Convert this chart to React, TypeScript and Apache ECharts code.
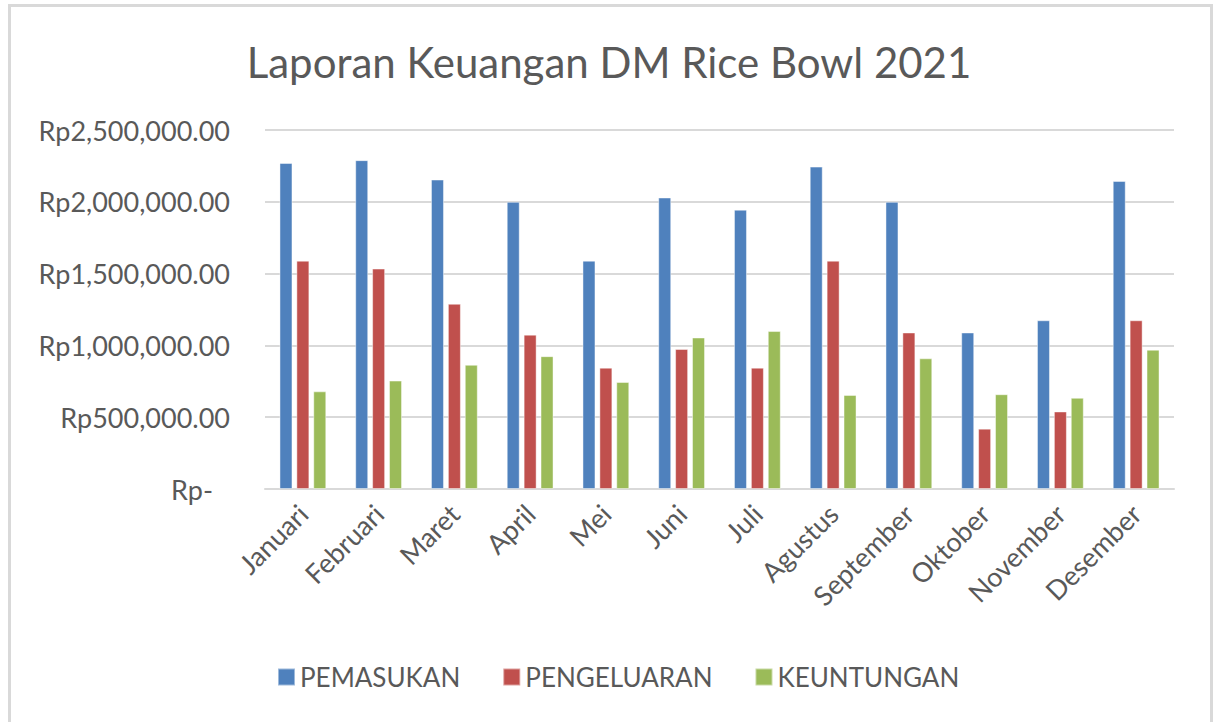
import React, { useEffect, useRef } from "react";
import * as echarts from "echarts";

const months = ["Januari", "Februari", "Maret", "April", "Mei", "Juni", "Juli", "Agustus", "September", "Oktober", "November", "Desember"];
const pemasukan = [2270000, 2290000, 2155000, 2000000, 1590000, 2030000, 1945000, 2245000, 2000000, 1090000, 1175000, 2145000];
const pengeluaran = [1590000, 1535000, 1290000, 1075000, 845000, 975000, 845000, 1590000, 1090000, 420000, 540000, 1175000];
const keuntungan = [680000, 755000, 865000, 925000, 745000, 1055000, 1100000, 655000, 910000, 660000, 635000, 970000];
const seriesNames = ["PEMASUKAN", "PENGELUARAN", "KEUNTUNGAN"];
const colors = ["#4f81bd", "#c0504d", "#9bbb59"];
const titleText = "Laporan Keuangan DM Rice Bowl 2021";

const FONT = "Lato";
const TXT = "#595959";

export default function App() {
  const ref = useRef<HTMLDivElement>(null);
  useEffect(() => {
    const chart = echarts.init(ref.current!, null, { renderer: "svg" });
    const data = [pemasukan, pengeluaran, keuntungan];
    chart.setOption({
      animation: false,
      backgroundColor: "#ffffff",
      textStyle: { fontFamily: FONT },
      title: {
        text: titleText,
        left: "center",
        top: 36,
        itemGap: 0,
        textStyle: { fontFamily: FONT, fontSize: 42, fontWeight: "normal", color: TXT },
      },
      graphic: [
        {
          type: "rect",
          shape: { x: 9.5, y: 5.5, width: 1202, height: 740 },
          style: { fill: "none", stroke: "#d9d9d9", lineWidth: 3 },
          silent: true,
        },
      ],
      legend: {
        bottom: 27,
        left: 272,
        itemWidth: 17,
        itemHeight: 17,
        itemGap: 42,
        icon: "rect",
        textStyle: { fontFamily: FONT, fontSize: 26, color: TXT },
        data: seriesNames,
      },
      grid: { left: 265, right: 44, top: 130, bottom: 233, containLabel: false },
      xAxis: {
        type: "category",
        data: months,
        axisLine: { lineStyle: { color: "#d9d9d9", width: 2 } },
        axisTick: { show: false },
        axisLabel: { rotate: 45, fontFamily: FONT, fontSize: 27, color: TXT, margin: 20, interval: 0 },
      },
      yAxis: {
        type: "value",
        min: 0,
        max: 2500000,
        interval: 500000,
        axisLine: { show: false },
        axisTick: { show: false },
        splitLine: { lineStyle: { color: "#d9d9d9", width: 2 } },
        axisLabel: {
          fontFamily: FONT,
          fontSize: 27,
          color: TXT,
          margin: 35,
          formatter: (v: number) =>
            v === 0
              ? "{z|Rp-}"
              : "Rp" + v.toLocaleString("en-US", { minimumFractionDigits: 2, maximumFractionDigits: 2 }),
          rich: { z: { fontFamily: FONT, fontSize: 27, color: TXT, padding: [0, 17, 0, 0] } },
        },
      },
      series: seriesNames.map((name, i) => ({
        name,
        type: "bar",
        data: data[i],
        barWidth: 13,
        barGap: "30%",
        itemStyle: { color: colors[i], borderColor: "rgba(255,255,255,0.45)", borderWidth: 1 },
      })),
    });
    return () => chart.dispose();
  }, []);
  return <div ref={ref} style={{ position: "fixed", left: 0, top: 0, width: 1218, height: 722 }} />;
}
